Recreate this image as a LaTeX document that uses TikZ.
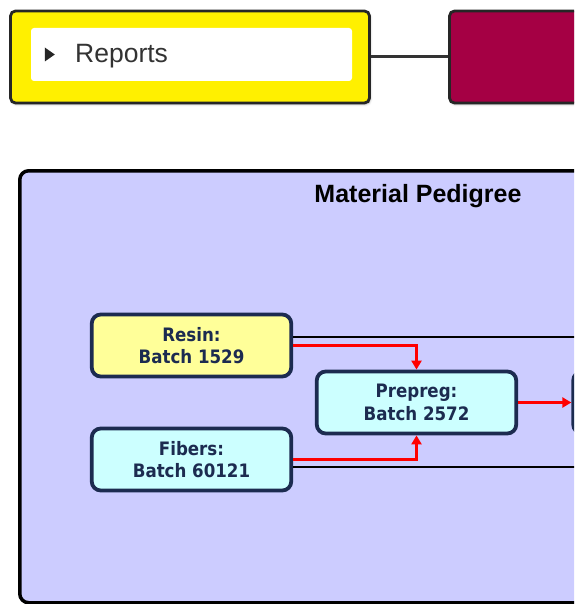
\documentclass[tikz,border=0pt]{standalone}
\usepackage{fontspec}
\setmainfont{Liberation Sans}
\newfontfamily\boxfont{DejaVu Sans Condensed}
\usetikzlibrary{arrows.meta, shadows.blur}

\definecolor{navy}{HTML}{1C2B50}
\definecolor{lavender}{HTML}{CCCCFF}
\definecolor{paleyellow}{HTML}{FFFF99}
\definecolor{palecyan}{HTML}{CCFFFF}
\definecolor{tabyellow}{HTML}{FFF000}
\definecolor{maroon}{HTML}{A50044}

\begin{document}
\begin{tikzpicture}[
    x=1pt, y=-1pt,
    tab/.style={draw=black!85, line width=2.8pt, rounded corners=5pt, minimum height=92pt, inner sep=0pt,
        blur shadow={shadow xshift=1pt, shadow yshift=-1.5pt, shadow opacity=30, shadow blur steps=4}},
    panel/.style={draw=black, fill=lavender, line width=3.5pt, rounded corners=9pt, inner sep=0pt},
    batch/.style={draw=navy, line width=3.8pt, rounded corners=9pt, minimum width=199.5pt, minimum height=62pt,
        inner sep=0pt, align=center, text=navy, font=\boxfont\bfseries\fontsize{18.5}{22.5}\selectfont},
    link/.style={line width=3pt, draw=black!80},
    trace/.style={line width=2.2pt, draw=black},
    flow/.style={line width=3.4pt, draw=red, -{Triangle[length=9pt, width=10pt]}}
]
    \useasboundingbox (0,0) rectangle (574,604);
    \clip (0,0) rectangle (574,604);

    % ==================== TOP TABS ====================
    \node[tab, fill=tabyellow, minimum width=359pt] (reports) at (190,57) {};
    \node[tab, fill=maroon, minimum width=250pt] (nexttab) at (574.5,57) {};
    \draw[link] (reports.east) -- (nexttab.west);

    % white bar with the label
    \node[fill=white, rounded corners=3pt, minimum width=321pt, minimum height=53pt, inner sep=0pt] (reportsbar) at (191.5,54.5) {};
    \fill[black!85] ([xshift=14pt, yshift=7pt]reportsbar.west) -- ++(10,7) -- ++(-10,7) -- cycle;
    \node[anchor=base west, inner sep=0pt, text=black!80, font=\fontsize{26.5}{30}\selectfont] (reportslabel) at (75,63) {Reports};


    % ==================== PEDIGREE PANEL ====================
    \node[panel, anchor=north west, minimum width=700pt, minimum height=432pt] (pedigree) at (18,169) {};
    \node[anchor=base, inner sep=0pt, font=\bfseries\fontsize{25}{30}\selectfont] (title) at (418,202) {Material Pedigree};

    % Batches
    \node[batch, fill=paleyellow] (resin) at (191.5,345.5) {Resin:\\Batch 1529};
    \node[batch, fill=palecyan] (fibers) at (191.5,459.5) {Fibers:\\Batch 60121};
    \node[batch, fill=palecyan] (prepreg) at (416.5,402.5) {Prepreg:\\Batch 2572};
    \node[batch, fill=palecyan] (part) at (673,402.5) {};

    % Trace lines running off to the right
    \coordinate (resinout) at (600,337);
    \coordinate (fibersout) at (600,467);
    \draw[trace] ([yshift=8.5pt]resin.east) -- (resinout);
    \draw[trace] ([yshift=-7.5pt]fibers.east) -- (fibersout);

    % Material flow
    \draw[flow] (resin.east) -| (prepreg.north);
    \draw[flow] (fibers.east) -| (prepreg.south);
    \draw[flow] (prepreg.east) -- (part.west);

\end{tikzpicture}
\end{document}
